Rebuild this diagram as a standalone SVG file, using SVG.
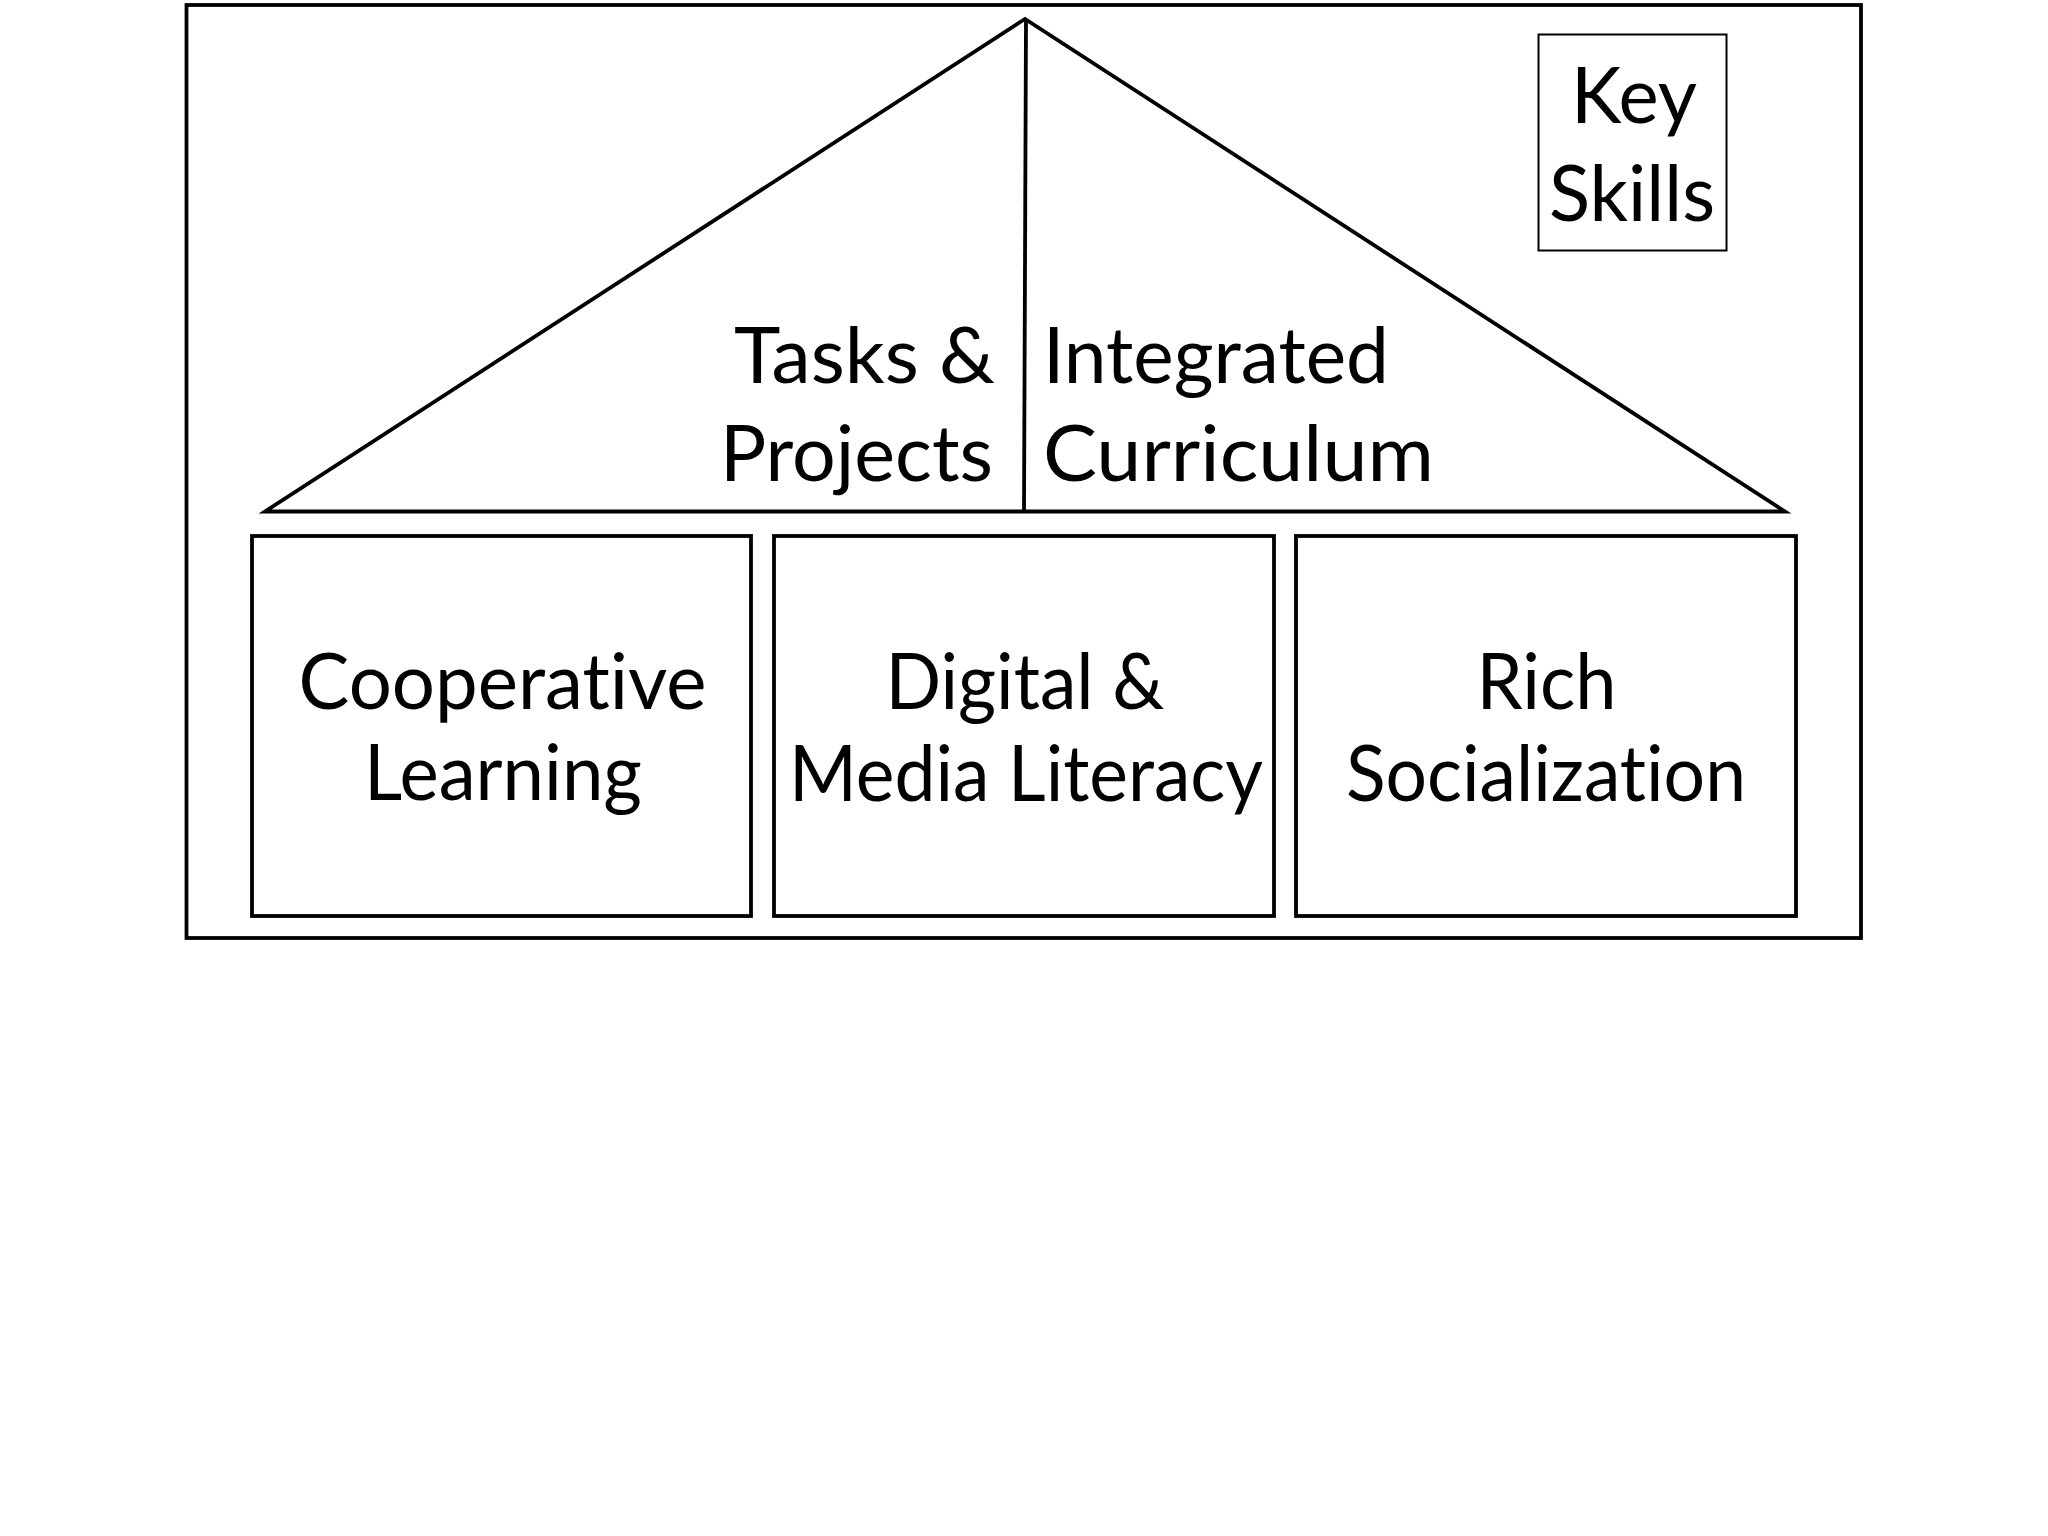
<svg xmlns="http://www.w3.org/2000/svg" width="2048" height="1536" viewBox="0 0 2048 1536">
<style>
.ln{fill:none;stroke:#000;stroke-width:3.8;stroke-linejoin:miter}
.thin{fill:none;stroke:#000;stroke-width:2}
.t{font-family:Lato,"Open Sans","Liberation Sans",sans-serif;font-size:78px;fill:#000;font-variant-ligatures:none;font-feature-settings:"liga" 0}
.c{text-anchor:middle}
.e{text-anchor:end}
</style>
<rect width="2048" height="1536" fill="#fff"/>
<g id="frame"><rect class="ln" x="186.5" y="5" width="1674.5" height="933" stroke-width="4"/></g>
<g id="roof">
<polygon class="ln" points="1025,19 265,511.5 1785,511.5"/>
</g>
<g id="connectors"><line class="ln" x1="1026" y1="19" x2="1024" y2="511.5"/></g>
<g id="tasks-projects">
<text class="t e" x="995" y="383" textLength="261" lengthAdjust="spacingAndGlyphs">Tasks &amp;</text>
<text class="t e" x="993" y="481" textLength="273" lengthAdjust="spacingAndGlyphs">Projects</text>
</g>
<g id="integrated-curriculum">
<text class="t" x="1043" y="383" textLength="346" lengthAdjust="spacingAndGlyphs">Integrated</text>
<text class="t" x="1043" y="481" textLength="391" lengthAdjust="spacingAndGlyphs">Curriculum</text>
</g>
<g id="key-skills">
<rect class="thin" x="1538.5" y="34.5" width="188" height="216"/>
<text class="t c" x="1634" y="123" textLength="126" lengthAdjust="spacingAndGlyphs">Key</text>
<text class="t c" x="1632" y="221" textLength="166" lengthAdjust="spacingAndGlyphs">Skills</text>
</g>
<g id="cooperative-learning">
<rect class="ln" x="252" y="536" width="499" height="380"/>
<text class="t c" x="502.5" y="708.5" textLength="408" lengthAdjust="spacingAndGlyphs">Cooperative</text>
<text class="t c" x="503" y="800" textLength="278" lengthAdjust="spacingAndGlyphs">Learning</text>
</g>
<g id="digital-media">
<rect class="ln" x="774" y="536" width="500" height="380"/>
<text class="t c" x="1025" y="709" textLength="279" lengthAdjust="spacingAndGlyphs">Digital &amp;</text>
<text class="t c" x="1026" y="801" textLength="474" lengthAdjust="spacingAndGlyphs">Media Literacy</text>
</g>
<g id="rich-socialization">
<rect class="ln" x="1296" y="536" width="500" height="380"/>
<text class="t c" x="1546.5" y="709" textLength="140" lengthAdjust="spacingAndGlyphs">Rich</text>
<text class="t c" x="1546" y="801" textLength="400" lengthAdjust="spacingAndGlyphs">Socialization</text>
</g>
</svg>
